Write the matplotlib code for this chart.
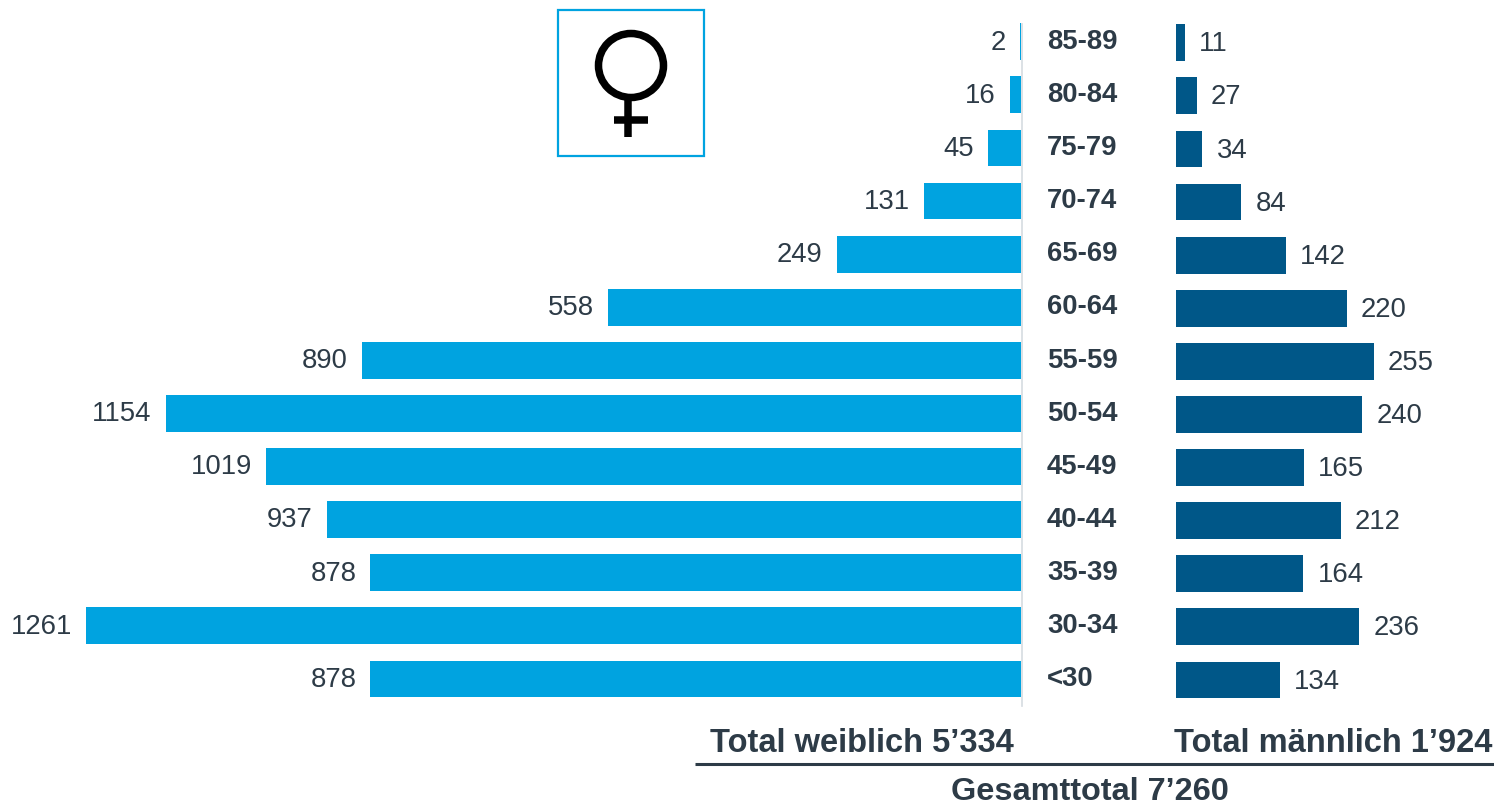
import matplotlib
matplotlib.use("Agg")
import matplotlib.pyplot as plt
from matplotlib.patches import Ellipse, Rectangle

plt.rcParams['font.family'] = ['Liberation Sans', 'DejaVu Sans']

ages = ["85-89", "80-84", "75-79", "70-74", "65-69", "60-64", "55-59", "50-54",
        "45-49", "40-44", "35-39", "30-34", "<30"]
female = [2, 16, 45, 131, 249, 558, 890, 1154, 1019, 937, 878, 1261, 878]
male = [11, 27, 34, 84, 142, 220, 255, 240, 165, 212, 164, 236, 134]
total_f = "Total weiblich 5’334"
total_m = "Total männlich 1’924"
total_all = "Gesamttotal 7’260"

W, H = 1494, 806
TEXT = "#2D3B47"
LIGHT = "#00A3E0"
DARK = "#005788"
PITCH = 53.1
FS = 19.8

fig = plt.figure(figsize=(W / 100, H / 100), dpi=100)

def rows(ax, top):
    ax.set_ylim((H - top) / PITCH, -top / PITCH)
    ax.axis("off")

# female axis: right edge at the bar baseline
xf = 1021.5
axf = fig.add_axes([0, 0, xf / W, 1])
axf.set_xlim(xf / 0.7415, 0)
rows(axf, 41.7)
axf.barh(range(len(ages)), female, height=36.8 / PITCH, color=LIGHT, linewidth=0)
for i, v in enumerate(female):
    axf.annotate(str(v), (v, i), xytext=(-10.2, -0.6), textcoords="offset points",
                 ha="right", va="center", fontsize=FS, color=TEXT)

# male axis
xm = 1176
axm = fig.add_axes([xm / W, 0, (W - xm) / W, 1])
axm.set_xlim(0, (W - xm) / 0.776)
rows(axm, 42.7)
axm.barh(range(len(ages)), male, height=36.8 / PITCH, color=DARK, linewidth=0)
for i, v in enumerate(male):
    axm.annotate(str(v), (v, i), xytext=(10.2, -1.2), textcoords="offset points",
                 ha="left", va="center", fontsize=FS, color=TEXT)

# overlay in pixel coordinates
ov = fig.add_axes([0, 0, 1, 1], zorder=5)
ov.set_xlim(0, W)
ov.set_ylim(H, 0)
ov.axis("off")
ov.patch.set_alpha(0)

ov.plot([1022, 1022], [24, 706], color="#D5DBE0", lw=1.2, zorder=1)
for i, a in enumerate(ages):
    ov.text(1047, 42 + i * PITCH, a, ha="left", va="center", fontsize=FS,
            fontweight="bold", color=TEXT)

ov.text(1014, 744, total_f, ha="right", va="center", fontsize=23.5, fontweight="bold", color=TEXT)
ov.text(1492, 744, total_m, ha="right", va="center", fontsize=23.5, fontweight="bold", color=TEXT)
ov.plot([695, 1494], [763.5, 763.5], color=TEXT, lw=2.2, solid_capstyle="butt")
ov.text(1090, 792, total_all, ha="center", va="center", fontsize=23.4, fontweight="bold", color=TEXT)

# female symbol box
ov.add_patch(Rectangle((558, 10), 146, 146, fill=False, edgecolor=LIGHT, lw=1.6))
ov.add_patch(Ellipse((631, 65.5), 65, 64, fill=False, edgecolor="black", lw=5.4))
ov.plot([628, 628], [99, 137], color="black", lw=5.4, solid_capstyle="butt")
ov.plot([614, 648], [120, 120], color="black", lw=5.4, solid_capstyle="butt")

fig.savefig("out.png", dpi=100)
